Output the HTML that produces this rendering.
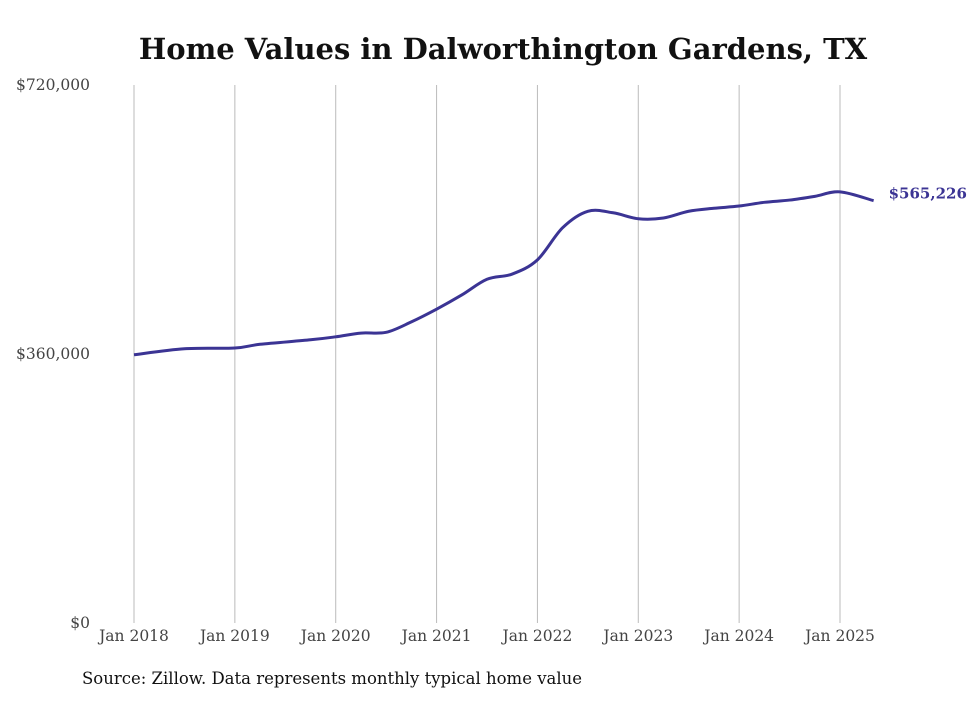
<!DOCTYPE html>
<html><head><meta charset="utf-8"><style>
body{margin:0;background:#fff;}
svg text{font-family:"DejaVu Serif","Liberation Serif",serif;}
</style></head><body>
<svg id="chart" width="980" height="699" xmlns="http://www.w3.org/2000/svg">
<text x="503" y="59" text-anchor="middle" font-size="29" font-weight="bold" fill="#111">Home Values in Dalworthington Gardens, TX</text>
<g id="grid"></g><g id="yticks"></g><g id="xticks"></g>
<path id="line" fill="none" stroke="#3b3494" stroke-width="3"/>
<text id="endlabel" font-size="15" font-weight="bold" fill="#3b3494"></text>
<text x="82" y="684" font-size="16.5" fill="#111">Source: Zillow. Data represents monthly typical home value</text>
</svg>
<script>
const months=[0,6,12,15,21,24,27,30,33,36,39,42,45,48,51,54,57,60,63,66,69,72,75,78,81,84,88];
const values=[359000,367000,368000,373000,379000,383000,388000,389000,403000,420000,439000,460000,467000,486000,529000,551000,549000,541000,542000,551000,555000,558000,563000,566000,571000,577000,565226];
const yTickVals=[0,360000,720000];
const yTickLabels=["$0","$360,000","$720,000"];
const xYears=["Jan 2018","Jan 2019","Jan 2020","Jan 2021","Jan 2022","Jan 2023","Jan 2024","Jan 2025"];
const x=m=>134+m*(706/84);
const y=v=>623-v*(538/720000);
const ns="http://www.w3.org/2000/svg";
const grid=document.getElementById('grid'),yt=document.getElementById('yticks'),xt=document.getElementById('xticks');
xYears.forEach((lab,i)=>{
  const l=document.createElementNS(ns,'line');
  
  
  l.setAttribute('x1',x(i*12));l.setAttribute('x2',x(i*12));l.setAttribute('y1',85);l.setAttribute('y2',623);
  l.setAttribute('stroke','#bbb');l.setAttribute('stroke-width','1');grid.appendChild(l);
  const t=document.createElementNS(ns,'text');
  
  
  t.setAttribute('x',x(i*12));t.setAttribute('y',641);t.setAttribute('text-anchor','middle');
  t.setAttribute('font-size','15.5');t.setAttribute('fill','#444');t.textContent=lab;xt.appendChild(t);
});
yTickVals.forEach((v,i)=>{
  const t=document.createElementNS(ns,'text');
  
  
  t.setAttribute('x',90);t.setAttribute('y',y(v)+5);t.setAttribute('text-anchor','end');
  t.setAttribute('font-size','15.5');t.setAttribute('fill','#444');t.textContent=yTickLabels[i];yt.appendChild(t);
});
const pts=months.map((m,i)=>[x(m),y(values[i])]);
let d='M'+pts[0][0]+','+pts[0][1];
for(let i=0;i<pts.length-1;i++){
  const p0=pts[i-1]||pts[i],p1=pts[i],p2=pts[i+1],p3=pts[i+2]||p2;
  const c1=[p1[0]+(p2[0]-p0[0])/6,p1[1]+(p2[1]-p0[1])/6],c2=[p2[0]-(p3[0]-p1[0])/6,p2[1]-(p3[1]-p1[1])/6];
  d+=' C'+c1+' '+c2+' '+p2;
}
document.getElementById('line').setAttribute('d',d);
const el=document.getElementById('endlabel'),last=pts[pts.length-1];
el.setAttribute('x',last[0]+15);el.setAttribute('y',last[1]-2);
el.textContent='$'+values[values.length-1].toLocaleString('en-US');
</script>
</body></html>
